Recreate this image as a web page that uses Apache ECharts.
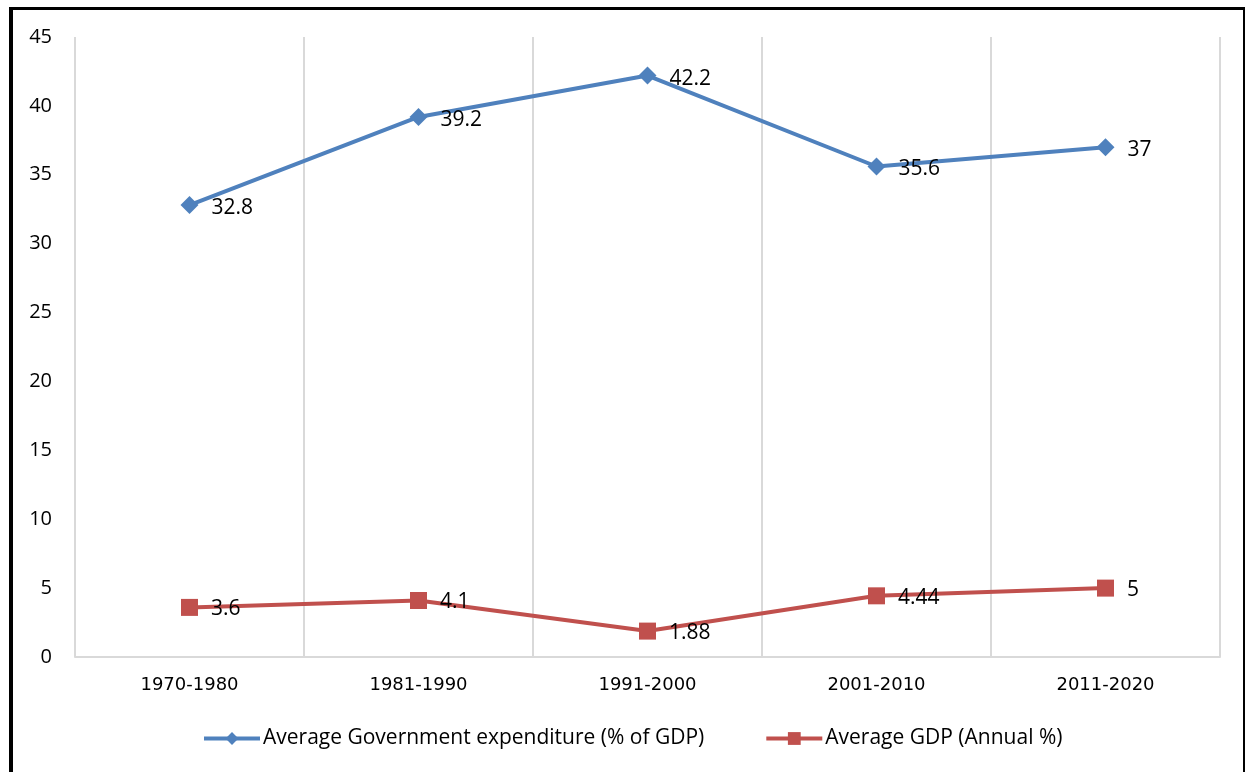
<!DOCTYPE html>
<html><head><meta charset="utf-8">
<script src="https://cdn.jsdelivr.net/npm/echarts@6/dist/echarts.min.js"></script>
<style>
html,body{margin:0;padding:0;background:#fff;}
#frame{position:absolute;left:9px;top:7px;width:1236px;height:800px;border-left:4px solid #000;border-top:3px solid #000;border-right:2px solid #000;box-sizing:border-box;pointer-events:none;z-index:2;}
#c{position:absolute;left:0;top:0;width:1248px;height:772px;}
</style></head>
<body>
<div id="c"></div><div id="frame"></div>
<script>
const categories = ['1970-1980','1981-1990','1991-2000','2001-2010','2011-2020'];
const govExpenditure = [32.8, 39.2, 42.2, 35.6, 37];
const gdpGrowth = [3.6, 4.1, 1.88, 4.44, 5];
const yTicks = {min:0, max:45, interval:5};
const seriesNames = ['Average Government expenditure (% of GDP)', 'Average GDP (Annual %)'];

const font = "'Open Sans', 'Liberation Sans', sans-serif";
const chart = echarts.init(document.getElementById('c'));
chart.setOption({
  animation:false,
  textStyle:{fontFamily:font},
  grid:{left:75, right:28, top:37, bottom:115, containLabel:false},
  legend:{
    bottom:18, left:197, itemWidth:56, itemHeight:16, itemGap:60,
    lineStyle:{width:4},
    textStyle:{fontSize:21, color:'#000', fontFamily:font, padding:[0,0,0,-2]},
    data:seriesNames
  },
  xAxis:{
    type:'category', data:categories, boundaryGap:true,
    axisLine:{show:true, lineStyle:{color:'#d9d9d9', width:2}},
    axisTick:{show:false},
    splitLine:{show:true, lineStyle:{color:'#d9d9d9', width:2}},
    axisLabel:{fontSize:18, color:'#000', margin:19, fontFamily:"'DejaVu Sans', sans-serif"}
  },
  yAxis:{
    type:'value', min:yTicks.min, max:yTicks.max, interval:yTicks.interval,
    axisLine:{show:false}, axisTick:{show:false}, splitLine:{show:false},
    axisLabel:{fontSize:20, color:'#000', margin:23, fontFamily:font}
  },
  series:[
    {name:seriesNames[0], type:'line', data:govExpenditure,
     symbol:'diamond', symbolSize:18,
     lineStyle:{color:'#4F81BD', width:4}, itemStyle:{color:'#4F81BD'},
     label:{show:true, position:'right', distance:13, offset:[0,3], fontSize:21, color:'#000', fontFamily:font}},
    {name:seriesNames[1], type:'line', data:gdpGrowth,
     symbol:'rect', symbolSize:17,
     lineStyle:{color:'#C0504D', width:4}, itemStyle:{color:'#C0504D'},
     label:{show:true, position:'right', distance:13, offset:[0,2], fontSize:21, color:'#000', fontFamily:font}}
  ]
});
</script>
</body></html>
